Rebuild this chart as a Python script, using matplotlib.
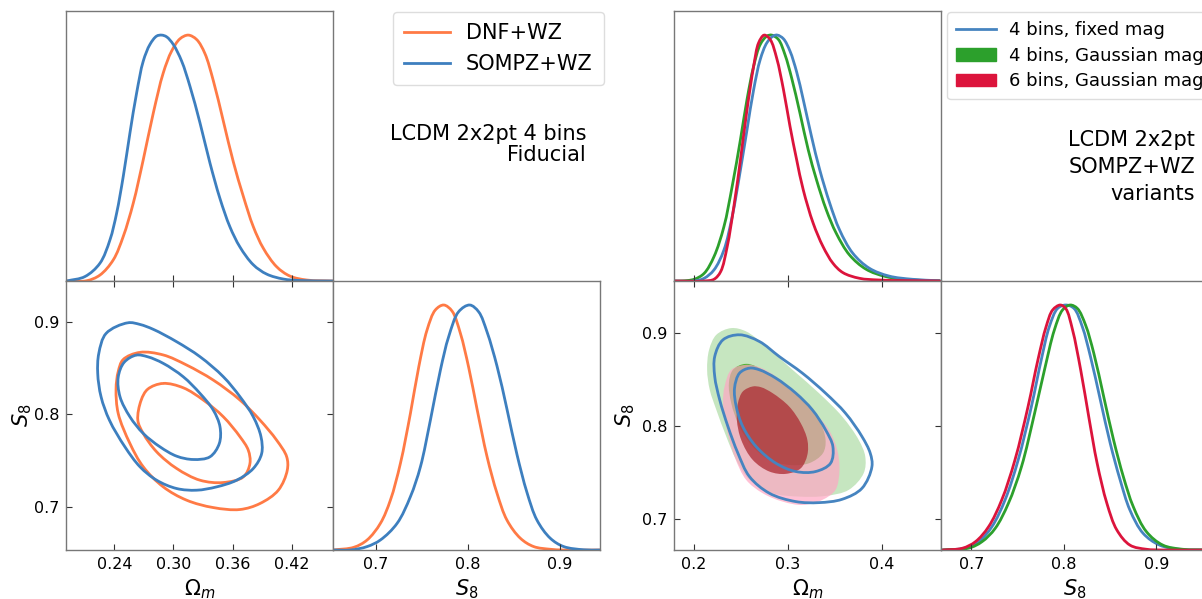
import numpy as np
import matplotlib
matplotlib.use('Agg')
import matplotlib.pyplot as plt
from matplotlib.path import Path
from matplotlib.patches import PathPatch, Patch
from matplotlib.lines import Line2D

# ---------------- left triangle: 2x2pt 4 bins fiducial ----------------
# 1D Omega_m marginals (normalised to peak)
om_sompz = [0.1916, 0.2102, 0.2254, 0.2356, 0.2424, 0.2491, 0.2559, 0.2627, 0.2694, 0.2762, 0.2830, 0.2881,
            0.2931, 0.2999, 0.3084, 0.3168, 0.3270, 0.3371, 0.3473, 0.3574, 0.3676, 0.3811, 0.3947, 0.4116,
            0.4285, 0.4623]
p_om_sompz = [0.0, 0.018, 0.072, 0.167, 0.276, 0.425, 0.602, 0.765, 0.894, 0.962, 0.996, 1.0,
              0.993, 0.962, 0.894, 0.792, 0.643, 0.480, 0.335, 0.220, 0.138, 0.066, 0.028, 0.008,
              0.002, 0.0]
om_dnf = [0.1916, 0.2119, 0.2254, 0.2390, 0.2491, 0.2593, 0.2694, 0.2796, 0.2897, 0.2982, 0.3067, 0.3151,
          0.3236, 0.3320, 0.3405, 0.3507, 0.3608, 0.3710, 0.3811, 0.3913, 0.4048, 0.4183, 0.4353, 0.4623]
p_om_dnf = [0.0, 0.001, 0.024, 0.086, 0.181, 0.317, 0.493, 0.683, 0.846, 0.935, 0.985, 1.0,
            0.982, 0.925, 0.815, 0.650, 0.485, 0.344, 0.221, 0.133, 0.058, 0.020, 0.004, 0.0]

# 1D S8 marginals
s8_dnf = [0.6530, 0.6757, 0.6902, 0.7047, 0.7156, 0.7265, 0.7374, 0.7465, 0.7555, 0.7646, 0.7737,
          0.7828, 0.7918, 0.8009, 0.8100, 0.8209, 0.8318, 0.8426, 0.8572, 0.8717, 0.8898, 0.9044, 0.9440]
p_s8_dnf = [0.0, 0.011, 0.041, 0.109, 0.204, 0.354, 0.558, 0.748, 0.898, 0.980, 1.0,
            0.975, 0.885, 0.745, 0.575, 0.381, 0.231, 0.122, 0.048, 0.014, 0.003, 0.0, 0.0]
s8_sompz = [0.6530, 0.6721, 0.6902, 0.7047, 0.7229, 0.7374, 0.7483, 0.7592, 0.7701, 0.7791, 0.7900, 0.8020,
            0.8118, 0.8209, 0.8318, 0.8426, 0.8535, 0.8644, 0.8753, 0.8898, 0.9044, 0.9261, 0.9436]
p_s8_sompz = [0.0, 0.0, 0.014, 0.041, 0.109, 0.218, 0.340, 0.531, 0.735, 0.871, 0.973, 1.0,
              0.972, 0.890, 0.750, 0.575, 0.390, 0.235, 0.122, 0.048, 0.014, 0.001, 0.0]

# 2D contours (Omega_m, S8)
sompz_95_om = [0.2538, 0.2317, 0.2243, 0.2232, 0.2266, 0.2351, 0.2508, 0.2661, 0.2830, 0.3033, 0.3236,
               0.3439, 0.3642, 0.3811, 0.3896, 0.3889, 0.3811, 0.3676, 0.3507, 0.3270, 0.3033, 0.2796, 0.2661]
sompz_95_s8 = [0.8988, 0.8873, 0.8657, 0.8440, 0.8187, 0.7934, 0.7646, 0.7430, 0.7285, 0.7195, 0.7177,
               0.7213, 0.7285, 0.7412, 0.7574, 0.7755, 0.7971, 0.8188, 0.8404, 0.8621, 0.8783, 0.8917, 0.8970]
sompz_68_om = [0.2622, 0.2500, 0.2440, 0.2458, 0.2559, 0.2694, 0.2864, 0.3033, 0.3202, 0.3371, 0.3466,
               0.3473, 0.3405, 0.3270, 0.3100, 0.2897, 0.2740]
sompz_68_s8 = [0.8638, 0.8560, 0.8400, 0.8188, 0.7971, 0.7791, 0.7646, 0.7545, 0.7509, 0.7538, 0.7682,
               0.7863, 0.8043, 0.8224, 0.8404, 0.8549, 0.8620]
dnf_95_om = [0.2660, 0.2490, 0.2440, 0.2418, 0.2440, 0.2559, 0.2694, 0.2897, 0.3134, 0.3405, 0.3676,
             0.3879, 0.4065, 0.4156, 0.4150, 0.4048, 0.3879, 0.3676, 0.3405, 0.3134, 0.2897]
dnf_95_s8 = [0.8668, 0.8590, 0.8460, 0.8270, 0.8007, 0.7682, 0.7430, 0.7213, 0.7069, 0.6989, 0.6968,
             0.7033, 0.7177, 0.7394, 0.7538, 0.7718, 0.7935, 0.8152, 0.8368, 0.8531, 0.8640]
dnf_68_om = [0.2894, 0.2740, 0.2673, 0.2639, 0.2694, 0.2830, 0.3033, 0.3270, 0.3507, 0.3710, 0.3777,
             0.3760, 0.3676, 0.3507, 0.3304, 0.3100]
dnf_68_s8 = [0.8332, 0.8270, 0.8151, 0.7934, 0.7791, 0.7592, 0.7412, 0.7285, 0.7260, 0.7321, 0.7466,
             0.7610, 0.7755, 0.7971, 0.8152, 0.8285]

# ---------------- right triangle: SOMPZ+WZ variants ----------------
om_fixed = [0.1785, 0.2000, 0.2106, 0.2211, 0.2317, 0.2405, 0.2493, 0.2563, 0.2634, 0.2704, 0.2775, 0.2845,
            0.2887, 0.2951, 0.3021, 0.3092, 0.3162, 0.3250, 0.3338, 0.3444, 0.3549, 0.3690, 0.3866, 0.4077,
            0.4324, 0.4616]
p_om_fixed = [0.0, 0.0, 0.011, 0.045, 0.126, 0.262, 0.452, 0.615, 0.779, 0.901, 0.969, 0.997,
              1.0, 0.985, 0.935, 0.850, 0.738, 0.588, 0.452, 0.317, 0.208, 0.113, 0.052, 0.020,
              0.007, 0.001]
om_g4 = [0.1785, 0.1859, 0.2000, 0.2106, 0.2211, 0.2317, 0.2405, 0.2493, 0.2563, 0.2634, 0.2704, 0.2775,
         0.2827, 0.2898, 0.2968, 0.3039, 0.3127, 0.3215, 0.3303, 0.3408, 0.3514, 0.3655, 0.3831, 0.4042,
         0.4324, 0.4616]
p_om_g4 = [0.0, 0.0, 0.007, 0.031, 0.099, 0.221, 0.385, 0.575, 0.738, 0.874, 0.962, 0.996,
           1.0, 0.982, 0.920, 0.825, 0.683, 0.534, 0.412, 0.289, 0.194, 0.106, 0.048, 0.018,
           0.004, 0.001]
om_g6 = [0.1785, 0.2106, 0.2211, 0.2282, 0.2352, 0.2423, 0.2493, 0.2563, 0.2634, 0.2687, 0.2746, 0.2810,
         0.2880, 0.2951, 0.3021, 0.3092, 0.3162, 0.3268, 0.3373, 0.3479, 0.3585, 0.3761, 0.3972, 0.4616]
p_om_g6 = [0.0, 0.0, 0.007, 0.038, 0.140, 0.303, 0.493, 0.697, 0.874, 0.969, 1.0, 0.982,
           0.905, 0.779, 0.629, 0.493, 0.371, 0.235, 0.140, 0.072, 0.034, 0.011, 0.004, 0.0]

s8_g6 = [0.6687, 0.6900, 0.7043, 0.7185, 0.7327, 0.7470, 0.7612, 0.7719, 0.7808, 0.7879, 0.7961,
         0.8021, 0.8093, 0.8182, 0.8271, 0.8360, 0.8466, 0.8573, 0.8715, 0.8893, 0.9071, 0.9560]
p_s8_g6 = [0.0, 0.007, 0.034, 0.095, 0.204, 0.367, 0.585, 0.776, 0.912, 0.980, 1.0,
           0.985, 0.900, 0.735, 0.540, 0.354, 0.190, 0.082, 0.020, 0.003, 0.0, 0.0]
s8_fixed = [0.6687, 0.6936, 0.7078, 0.7221, 0.7363, 0.7505, 0.7648, 0.7755, 0.7843, 0.7932, 0.8021,
            0.8110, 0.8199, 0.8288, 0.8395, 0.8502, 0.8609, 0.8715, 0.8858, 0.9036, 0.9249, 0.9560]
p_s8_fixed = [0.0, 0.008, 0.034, 0.095, 0.204, 0.367, 0.585, 0.776, 0.912, 0.986, 1.0,
              0.986, 0.912, 0.789, 0.612, 0.435, 0.286, 0.163, 0.068, 0.020, 0.003, 0.0]
s8_g4 = [0.6687, 0.6972, 0.7114, 0.7256, 0.7399, 0.7541, 0.7683, 0.7790, 0.7897, 0.7986, 0.8068,
         0.8146, 0.8235, 0.8324, 0.8431, 0.8538, 0.8644, 0.8751, 0.8893, 0.9071, 0.9285, 0.9560]
p_s8_g4 = [0.0, 0.008, 0.034, 0.088, 0.190, 0.340, 0.558, 0.735, 0.898, 0.980, 1.0,
           0.986, 0.918, 0.803, 0.626, 0.449, 0.299, 0.177, 0.075, 0.020, 0.003, 0.0]

fixed_95_om = [0.2483, 0.2307, 0.2219, 0.2219, 0.2272, 0.2360, 0.2466, 0.2589, 0.2801, 0.3083, 0.3330,
               0.3577, 0.3788, 0.3894, 0.3876, 0.3788, 0.3612, 0.3400, 0.3153, 0.2906, 0.2695]
fixed_95_s8 = [0.8982, 0.8928, 0.8749, 0.8534, 0.8283, 0.7996, 0.7710, 0.7459, 0.7280, 0.7190, 0.7179,
               0.7215, 0.7333, 0.7566, 0.7710, 0.7889, 0.8140, 0.8355, 0.8570, 0.8749, 0.8910]
fixed_68_om = [0.2589, 0.2483, 0.2430, 0.2448, 0.2518, 0.2660, 0.2871, 0.3083, 0.3294, 0.3453, 0.3478,
               0.3400, 0.3259, 0.3083, 0.2871, 0.2695]
fixed_68_s8 = [0.8624, 0.8570, 0.8409, 0.8212, 0.7996, 0.7781, 0.7602, 0.7513, 0.7513, 0.7602, 0.7781,
               0.7961, 0.8176, 0.8355, 0.8516, 0.8606]
g4_95_om = [0.2395, 0.2236, 0.2159, 0.2138, 0.2166, 0.2236, 0.2342, 0.2448, 0.2589, 0.2836, 0.3118,
            0.3400, 0.3647, 0.3806, 0.3823, 0.3753, 0.3577, 0.3330, 0.3048, 0.2765, 0.2554]
g4_95_s8 = [0.9054, 0.8982, 0.8821, 0.8606, 0.8391, 0.8176, 0.7889, 0.7638, 0.7423, 0.7280, 0.7244,
            0.7251, 0.7316, 0.7495, 0.7674, 0.7853, 0.8104, 0.8355, 0.8606, 0.8857, 0.9018]
g4_68_om = [0.2554, 0.2413, 0.2370, 0.2395, 0.2483, 0.2624, 0.2801, 0.3012, 0.3224, 0.3372, 0.3400,
            0.3330, 0.3189, 0.2977, 0.2765]
g4_68_s8 = [0.8670, 0.8606, 0.8462, 0.8247, 0.7996, 0.7781, 0.7638, 0.7584, 0.7602, 0.7710, 0.7853,
            0.8068, 0.8247, 0.8427, 0.8588]
g6_95_om = [0.2554, 0.2395, 0.2324, 0.2307, 0.2342, 0.2430, 0.2554, 0.2730, 0.2942, 0.3153, 0.3365,
            0.3506, 0.3548, 0.3524, 0.3435, 0.3259, 0.3083, 0.2871, 0.2695]
g6_95_s8 = [0.8660, 0.8606, 0.8427, 0.8247, 0.7996, 0.7674, 0.7423, 0.7280, 0.7190, 0.7154, 0.7208,
            0.7316, 0.7531, 0.7746, 0.7961, 0.8176, 0.8355, 0.8534, 0.8634]
g6_68_om = [0.2624, 0.2518, 0.2466, 0.2455, 0.2501, 0.2624, 0.2801, 0.2977, 0.3136, 0.3206, 0.3206,
            0.3136, 0.3012, 0.2836, 0.2712]
g6_68_s8 = [0.8427, 0.8373, 0.8247, 0.8068, 0.7853, 0.7638, 0.7513, 0.7488, 0.7548, 0.7692, 0.7853,
            0.8032, 0.8212, 0.8355, 0.8419]

ORANGE = '#ff7a45'
BLUE = '#3d7fbf'
BLUE2 = '#4684c0'
GREEN = '#2ca02c'
RED = '#dc143c'
SPINE = '#777777'


def spline_path(xs, ys, sx, sy, closed=False):
    # smooth curve through the read points (centripetal Catmull-Rom as Bezier segments)
    pts = np.column_stack([np.asarray(xs) / sx, np.asarray(ys) / sy])
    if closed:
        pts = np.vstack([pts[-1], pts, pts[0], pts[1]])
    else:
        pts = np.vstack([2 * pts[0] - pts[1], pts, 2 * pts[-1] - pts[-2]])
    verts = [pts[1]]
    codes = [Path.MOVETO]
    for i in range(1, len(pts) - 2):
        p0, p1, p2, p3 = pts[i - 1], pts[i], pts[i + 1], pts[i + 2]
        d1 = np.linalg.norm(p1 - p0) ** 0.5
        d2 = np.linalg.norm(p2 - p1) ** 0.5
        d3 = np.linalg.norm(p3 - p2) ** 0.5
        b1 = (d1 ** 2 * p2 - d2 ** 2 * p0 + (2 * d1 ** 2 + 3 * d1 * d2 + d2 ** 2) * p1) / (3 * d1 * (d1 + d2))
        b2 = (d3 ** 2 * p1 - d2 ** 2 * p3 + (2 * d3 ** 2 + 3 * d3 * d2 + d2 ** 2) * p2) / (3 * d3 * (d3 + d2))
        verts += [b1, b2, p2]
        codes += [Path.CURVE4] * 3
    verts = np.array(verts) * [sx, sy]
    return Path(verts, codes)


def scales(ax):
    x0, x1 = ax.get_xlim()
    y0, y1 = ax.get_ylim()
    return x1 - x0, y1 - y0


def curve(ax, xs, ys, color, lw=2.0):
    sx, sy = scales(ax)
    ax.add_patch(PathPatch(spline_path(xs, ys, sx, sy), fc='none', ec=color, lw=lw, capstyle='round'))


def contour(ax, xs, ys, color, lw=2.0, fill=False, alpha=1.0):
    sx, sy = scales(ax)
    p = spline_path(xs, ys, sx, sy, closed=True)
    if fill:
        ax.add_patch(PathPatch(p, fc=color, ec='none', alpha=alpha))
    else:
        ax.add_patch(PathPatch(p, fc='none', ec=color, lw=lw))


def style(ax):
    for s in ax.spines.values():
        s.set_color(SPINE)
        s.set_linewidth(1.0)
    ax.tick_params(direction='in', length=4, width=0.8, color='0.2', labelsize=11.5, pad=5)


W = 267 / 1202
H_TOP = 270 / 599
H_BOT = 269 / 599
Y_BOT = 49 / 599
Y_TOP = 318 / 599

fig = plt.figure(figsize=(12.02, 5.99), dpi=100)


def triangle(x0, om_lim, s8_lim, om_ticks, om_labels, s8_ticks, ylab_x):
    ax_top = fig.add_axes([x0, Y_TOP, W, H_TOP])
    ax_2d = fig.add_axes([x0, Y_BOT, W, H_BOT])
    ax_s8 = fig.add_axes([x0 + W, Y_BOT, W, H_BOT])
    for a in (ax_top, ax_2d, ax_s8):
        style(a)
    ax_top.set_xlim(om_lim)
    ax_top.set_ylim(0, 1.098)
    ax_top.set_xticks(om_ticks)
    ax_top.set_xticklabels([])
    ax_top.set_yticks([])
    ax_2d.set_xlim(om_lim)
    ax_2d.set_ylim(s8_lim)
    ax_2d.set_xticks(om_ticks)
    ax_2d.set_xticklabels(om_labels)
    ax_2d.set_yticks(s8_ticks)
    ax_2d.tick_params(top=True, right=True)
    ax_2d.set_xlabel(r'$\Omega_m$', fontsize=15, labelpad=4)
    ax_2d.set_ylabel(r'$S_8$', fontsize=15)
    ax_2d.yaxis.set_label_coords(ylab_x, 0.5)
    ax_s8.set_xlim(s8_lim)
    ax_s8.set_ylim(0, 1.098)
    ax_s8.set_xticks(s8_ticks)
    ax_s8.set_yticks([])
    ax_s8.set_xlabel(r'$S_8$', fontsize=15, labelpad=4)
    return ax_top, ax_2d, ax_s8


# left triangle
a1, a2, a3 = triangle(66 / 1202, (0.191, 0.462), (0.653, 0.944),
                      [0.24, 0.30, 0.36, 0.42], ['0.24', '0.30', '0.36', '0.42'], [0.7, 0.8, 0.9], -0.118)
curve(a1, om_dnf, p_om_dnf, ORANGE)
curve(a1, om_sompz, p_om_sompz, BLUE)
contour(a2, dnf_95_om, dnf_95_s8, ORANGE)
contour(a2, dnf_68_om, dnf_68_s8, ORANGE)
contour(a2, sompz_95_om, sompz_95_s8, BLUE)
contour(a2, sompz_68_om, sompz_68_s8, BLUE)
curve(a3, s8_dnf, p_s8_dnf, ORANGE)
curve(a3, s8_sompz, p_s8_sompz, BLUE)

fig.legend(handles=[Line2D([], [], color=ORANGE, lw=2, label='DNF+WZ'),
                    Line2D([], [], color=BLUE, lw=2, label='SOMPZ+WZ')],
           loc='upper left', bbox_to_anchor=(393 / 1202, 1 - 12 / 599), fontsize=15,
           handlelength=2.2, handletextpad=0.75, borderpad=0.55, labelspacing=0.5,
           borderaxespad=0, framealpha=1, edgecolor='#dddddd')
fig.text(586 / 1202, 1 - 124 / 599, 'LCDM 2x2pt 4 bins\nFiducial', ha='right', va='top',
         fontsize=15, linespacing=1.05)

# right triangle
b1, b2, b3 = triangle(674 / 1202, (0.1785, 0.463), (0.667, 0.956),
                      [0.2, 0.3, 0.4], ['0.2', '0.3', '0.4'], [0.7, 0.8, 0.9], -0.14)
curve(b1, om_g4, p_om_g4, GREEN)
curve(b1, om_fixed, p_om_fixed, BLUE2)
curve(b1, om_g6, p_om_g6, RED)
contour(b2, g4_95_om, g4_95_s8, '#c6e6c0', fill=True)
contour(b2, g4_68_om, g4_68_s8, '#48b42d', fill=True)
contour(b2, g6_95_om, g6_95_s8, '#ffa6c3', fill=True, alpha=0.7)
contour(b2, g6_68_om, g6_68_s8, '#ac2a32', fill=True, alpha=0.75)
contour(b2, fixed_95_om, fixed_95_s8, BLUE2)
contour(b2, fixed_68_om, fixed_68_s8, BLUE2)
curve(b3, s8_fixed, p_s8_fixed, BLUE2)
curve(b3, s8_g4, p_s8_g4, GREEN)
curve(b3, s8_g6, p_s8_g6, RED)

fig.legend(handles=[Line2D([], [], color=BLUE2, lw=2, label='4 bins, fixed mag'),
                    Patch(color=GREEN, label='4 bins, Gaussian mag'),
                    Patch(color=RED, label='6 bins, Gaussian mag')],
           loc='upper left', bbox_to_anchor=(947 / 1202, 1 - 12 / 599), fontsize=13,
           handlelength=2.2, handletextpad=0.75, borderpad=0.5, labelspacing=0.42,
           borderaxespad=0, framealpha=1, edgecolor='#dddddd')
fig.text(1195 / 1202, 1 - 130 / 599, 'LCDM 2x2pt\nSOMPZ+WZ\nvariants', ha='right', va='top',
         fontsize=15, linespacing=1.45)

fig.savefig('out.png', dpi=100)
